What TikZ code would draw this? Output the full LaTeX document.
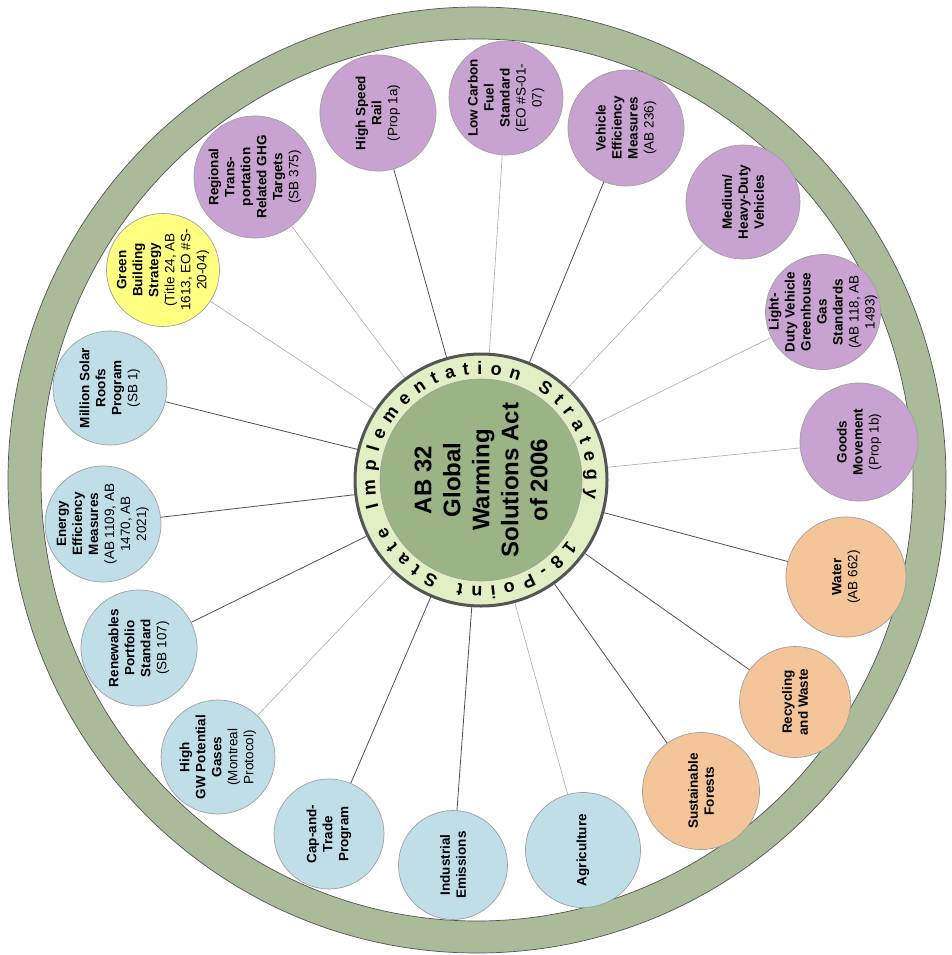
\documentclass[tikz,border=0pt]{standalone}
\usepackage{fontspec}
\setmainfont{Liberation Sans}
\usetikzlibrary{decorations.text}
\definecolor{purp}{RGB}{200,162,208}
\definecolor{bluec}{RGB}{192,222,232}
\definecolor{peach}{RGB}{244,197,152}
\definecolor{yell}{RGB}{255,255,128}
\definecolor{ringgreen}{RGB}{169,187,152}
\definecolor{diskgreen}{RGB}{154,180,134}
\definecolor{bandfill}{RGB}{226,238,196}
\definecolor{hubborder}{RGB}{85,85,85}
\definecolor{satborder}{RGB}{160,160,160}
\definecolor{darkline}{RGB}{80,80,80}
\definecolor{lightline}{RGB}{170,170,170}
\newcommand\rg[1]{{\mdseries #1}}
\newcommand\ringfont{\fontsize{18}{18}\selectfont\bfseries}
% #1 name, #2 fill, #3 diameter, #4 position, #5 text
\newcommand\satnode[5]{%
  \node[satc, fill=#2, minimum size=#3] (#1) at (#4) {};
  \node[satt] (#1t) at (#4) {#5};}
\begin{document}
\begin{tikzpicture}[x=1pt,y=1pt,
  satc/.style={circle, draw=satborder, line width=0.7pt, inner sep=0pt},
  satt/.style={rotate=90, align=center, inner sep=0pt,
    font=\fontsize{13.5}{16}\selectfont\bfseries},
  dk/.style={draw=darkline, line width=0.8pt},
  lt/.style={draw=lightline, line width=0.6pt}]
\useasboundingbox (0,0) rectangle (951,-955);
% outer ring
\draw[draw=hubborder, line width=0.7pt, fill=ringgreen, even odd rule]
  (477,-480) ellipse [x radius=469, y radius=473]
  (477,-480) ellipse [x radius=436, y radius=441];
% hub
\node[circle, draw=hubborder, line width=3pt, fill=bandfill, minimum size=252pt, inner sep=0pt] (hub) at (481,-480) {};
\node[circle, draw=satborder, line width=0.6pt, fill=diskgreen, minimum size=202pt, inner sep=0pt] (disk) at (481,-480) {};
\node[rotate=90, align=center, font=\fontsize{24}{29}\selectfont\bfseries] (title) at (481,-480)
  {AB 32\\Global\\Warming\\Solutions Act\\of 2006};
\path[decorate, decoration={text along path,
   text={|\ringfont|18-Point State Implementation Strategy}, text align={fit to path}}]
  (481,-480) ++(-35:106) arc[start angle=-35, end angle=-370, radius=106];
% satellites
\satnode{reg}{purp}{122pt}{255,-177}{Regional\\Trans-\\portation\\Related GHG\\Targets\\\rg{(SB 375)}}
\satnode{hsr}{purp}{116pt}{378,-113}{High Speed\\Rail\\\rg{(Prop 1a)}}
\satnode{lcf}{purp}{114pt}{506,-98}{Low Carbon\\Fuel\\Standard\\\rg{(EO \#S-01-}\\\rg{07)}}
\satnode{vem}{purp}{116pt}{626,-128}{Vehicle\\Efficiency\\Measures\\\rg{(AB 236)}}
\satnode{mhd}{purp}{114pt}{743,-202}{Medium/\\Heavy-Duty\\Vehicles}
\satnode{ldv}{purp}{115pt}{823,-312}{Light-\\Duty Vehicle\\Greenhouse\\Gas\\Standards\\\rg{(AB 118, AB}\\\rg{1493)}}
\satnode{goods}{purp}{118pt}{859,-442}{Goods\\Movement\\\rg{(Prop 1b)}}
\satnode{water}{peach}{120pt}{846,-577}{Water\\\rg{(AB 662)}}
\satnode{recyc}{peach}{111pt}{795,-702}{Recycling\\and Waste}
\satnode{forest}{peach}{117pt}{701,-791}{Sustainable\\Forests}
\satnode{agri}{bluec}{115pt}{583,-850}{Agriculture}
\satnode{indus}{bluec}{109pt}{453,-865}{Industrial\\Emissions}
\satnode{cap}{bluec}{110pt}{329,-834}{Cap-and-\\Trade\\Program}
\satnode{hgw}{bluec}{114pt}{218,-757}{High\\GW Potential\\Gases\\\rg{(Montreal}\\\rg{Protocol)}}
\satnode{rps}{bluec}{116pt}{139,-648}{Renewables\\Portfolio\\Standard\\\rg{(SB 107)}}
\satnode{eem}{bluec}{116pt}{103,-524}{Energy\\Efficiency\\Measures\\\rg{(AB 1109, AB}\\\rg{1470, AB}\\\rg{2021)}}
\satnode{msr}{bluec}{114pt}{110,-388}{Million Solar\\Roofs\\Program\\\rg{(SB 1)}}
\satnode{gbs}{yell}{113pt}{163,-270}{Green\\Building\\Strategy\\\rg{(Title 24, AB}\\\rg{1613, EO \#S-}\\\rg{20-04)}}
% connectors
\draw[lt] (hub) -- (reg);
\draw[dk] (hub) -- (hsr);
\draw[lt] (hub) -- (lcf);
\draw[dk] (hub) -- (vem);
\draw[lt] (hub) -- (mhd);
\draw[lt] (hub) -- (ldv);
\draw[lt] (hub) -- (goods);
\draw[dk] (hub) -- (water);
\draw[dk] (hub) -- (recyc);
\draw[dk] (hub) -- (forest);
\draw[lt] (hub) -- (agri);
\draw[dk] (hub) -- (indus);
\draw[dk] (hub) -- (cap);
\draw[lt] (hub) -- (hgw);
\draw[dk] (hub) -- (rps);
\draw[dk] (hub) -- (eem);
\draw[dk] (hub) -- (msr);
\draw[lt] (hub) -- (gbs);
\end{tikzpicture}
\end{document}
